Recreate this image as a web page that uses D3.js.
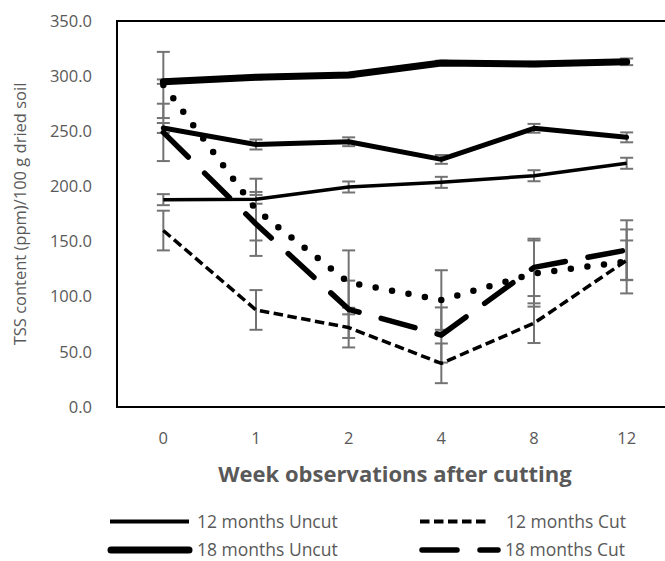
<!DOCTYPE html>
<html>
<head>
<meta charset="utf-8">
<script src="https://cdn.jsdelivr.net/npm/d3@7"></script>
<style>
    body { margin: 0; background: #fff; }
    svg { display: block; font-family: "Open Sans", sans-serif; }
</style>
</head>
<body>
<svg id="chart" width="665" height="561"></svg>
<script>
// Categories and tick labels
const weeks = ["0", "1", "2", "4", "8", "12"];
const yTicks = [0, 50, 100, 150, 200, 250, 300, 350];

// Series values (TSS content) and error bar half-lengths
const uncut18 = [295, 299, 301, 312, 311, 313];
const uncut18_err = [2, 2, 2, 2, 2, 3];
const thickB = [253, 238, 240.5, 224.5, 252.7, 244.5];
const thickB_err = [4.5, 4.5, 4, 4, 4, 4.5];
const uncut12 = [188, 188.3, 199.5, 203.7, 209.7, 221];
const uncut12_err = [5, 4, 5, 5, 5, 5];
const cut12 = [160, 88, 72, 39.6, 76, 133];
const cut12_err = [18, 18, 18, 18, 18, 18];
const dotted = [292, 179, 113, 97, 121, 132];
const dotted_err = [30, 28, 29, 27, 30, 29];
const cut18 = [249, 166, 88.6, 65.3, 126.6, 142.3];
const cut18_err = [26, 29, 26, 25, 26, 27];

const legendLabels = ["12 months Uncut", "12 months Cut", "18 months Uncut", "18 months Cut"];

const plot = { left: 117, right: 673, top: 21, bottom: 407 };
const textColor = "#595959";

// line styles
const styles = {
    uncut18: { width: 7, dash: null, cap: "round" },
    thickB: { width: 5, dash: null, cap: "round" },
    uncut12: { width: 3.5, dash: null, cap: "butt" },
    cut12: { width: 3.5, dash: "9.5,4.5", cap: "butt" },
    dotted: { width: 6.5, dash: "0,16.7", cap: "round" },
    cut18: { width: 5.5, dash: "35,23", cap: "round" },
};

const series = [
    { key: "dotted", values: dotted, err: dotted_err },
    { key: "cut12", values: cut12, err: cut12_err },
    { key: "cut18", values: cut18, err: cut18_err },
    { key: "uncut12", values: uncut12, err: uncut12_err },
    { key: "thickB", values: thickB, err: thickB_err },
    { key: "uncut18", values: uncut18, err: uncut18_err },
];

const svg = d3.select("#chart");

const x = d3.scaleBand().domain(weeks).range([plot.left, plot.right]).padding(0);
const y = d3.scaleLinear().domain([0, 350]).range([plot.bottom, plot.top]);
const cx = (i) => x(weeks[i]) + x.bandwidth() / 2;

// Error bars (behind the lines)
const errG = svg.append("g").attr("stroke", "#737373").attr("stroke-width", 2);
series.forEach((s) => {
    s.values.forEach((v, i) => {
        const px = cx(i);
        const hi = y(v + s.err[i]);
        const lo = y(v - s.err[i]);
        errG.append("line").attr("x1", px).attr("x2", px).attr("y1", hi).attr("y2", lo);
        errG.append("line").attr("x1", px - 6.5).attr("x2", px + 6.5).attr("y1", hi).attr("y2", hi);
        errG.append("line").attr("x1", px - 6.5).attr("x2", px + 6.5).attr("y1", lo).attr("y2", lo);
    });
});

// Lines
const line = d3
    .line()
    .x((d, i) => cx(i))
    .y((d) => y(d));

function applyStyle(sel, st) {
    sel.attr("fill", "none")
        .attr("stroke", "#000")
        .attr("stroke-width", st.width)
        .attr("stroke-linecap", st.cap)
        .attr("stroke-linejoin", "round");
    if (st.dash) {
        sel.attr("stroke-dasharray", st.dash);
    }
    return sel;
}

series.forEach((s) => {
    applyStyle(svg.append("path").attr("d", line(s.values)), styles[s.key]);
});

// Frame
svg.append("rect")
    .attr("x", plot.left)
    .attr("y", plot.top)
    .attr("width", plot.right - plot.left)
    .attr("height", plot.bottom - plot.top)
    .attr("fill", "none")
    .attr("stroke", "#000")
    .attr("stroke-width", 2);

// Axes
const yAxis = d3.axisLeft(y).tickValues(yTicks).tickFormat(d3.format(".1f")).tickSize(0).tickPadding(25);
svg.append("g")
    .attr("transform", `translate(${plot.left},0)`)
    .call(yAxis)
    .call((g) => g.select(".domain").remove());

const xAxis = d3.axisBottom(x).tickSize(0).tickPadding(25);
svg.append("g")
    .attr("transform", `translate(0,${plot.bottom})`)
    .call(xAxis)
    .call((g) => g.select(".domain").remove());

svg.selectAll(".tick text")
    .attr("font-family", "Open Sans, sans-serif")
    .attr("font-size", 16.5)
    .attr("fill", textColor);

// Axis titles
svg.append("text")
    .attr("x", (plot.left + plot.right) / 2)
    .attr("y", 482)
    .attr("text-anchor", "middle")
    .attr("font-size", 22)
    .attr("font-weight", "bold")
    .attr("fill", textColor)
    .text("Week observations after cutting");

svg.append("text")
    .attr("transform", `translate(26,${(plot.top + plot.bottom) / 2}) rotate(-90)`)
    .attr("text-anchor", "middle")
    .attr("font-size", 16.5)
    .attr("fill", textColor)
    .text("TSS content (ppm)/100 g dried soil");

// Legend
const legendItems = [
    { label: legendLabels[0], st: { ...styles.uncut12, width: 4 }, x1: 110, x2: 189, tx: 197, y: 521.5 },
    { label: legendLabels[1], st: { ...styles.cut12, width: 4 }, x1: 420, x2: 490, tx: 506, y: 521.5 },
    { label: legendLabels[2], st: styles.uncut18, x1: 111, x2: 189, tx: 197, y: 550 },
    { label: legendLabels[3], st: styles.cut18, x1: 422, x2: 498, tx: 505, y: 550 },
];
legendItems.forEach((d) => {
    applyStyle(svg.append("path").attr("d", `M${d.x1},${d.y}H${d.x2}`), d.st);
    svg.append("text")
        .attr("x", d.tx)
        .attr("y", d.y)
        .attr("dy", "0.35em")
        .attr("font-size", 17.5)
        .attr("fill", textColor)
        .text(d.label);
});
</script>
</body>
</html>
